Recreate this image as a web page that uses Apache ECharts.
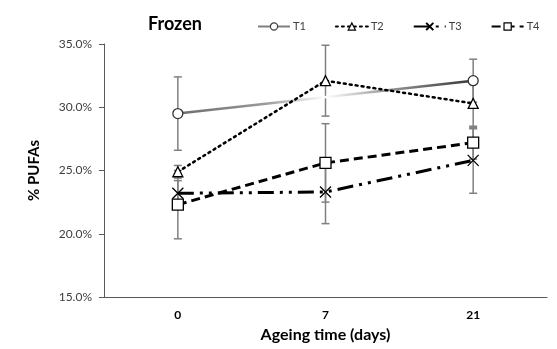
<!DOCTYPE html>
<html>
<head>
<meta charset="utf-8">
<script src="https://cdn.jsdelivr.net/npm/echarts@6/dist/echarts.min.js"></script>
<style>html,body{margin:0;padding:0;background:#fff}#c{width:557px;height:349px}</style>
</head>
<body>
<div id="c"></div>
<script>
const categories = ['0', '7', '21'];
const yTicks = [15, 20, 25, 30, 35];
const T1 = [29.5, null, 32.1];
const T2 = [24.9, 32.1, 30.3];
const T3 = [23.2, 23.3, 25.8];
const T4 = [22.3, 25.6, 27.2];
const errT1 = [2.9, null, 1.7];
const errT2 = [0.5, 2.8, 2.0];
const errT3 = [1.0, 2.5, 2.6];
const errT4 = [2.7, 3.1, 1.3];

const FONT = 'Lato, "Open Sans", sans-serif';
const chart = echarts.init(document.getElementById('c'), null, {renderer: 'canvas'});

function errData(vals, errs) {
  const out = [];
  vals.forEach((v, i) => {
    if (v != null && errs[i] != null) out.push([i, v - errs[i], v + errs[i]]);
  });
  return out;
}
const allErr = [].concat(errData(T1, errT1), errData(T2, errT2), errData(T3, errT3), errData(T4, errT4));

const xPath = 'path://M0,0L10,10M10,0L0,10';

chart.setOption({
  animation: false,
  backgroundColor: '#fff',
  title: {
    text: 'Frozen', left: 143, top: 10,
    textStyle: {fontFamily: FONT, fontSize: 18, fontWeight: 'bold', color: '#000'}
  },
  legend: {
    left: 252, top: 16, itemWidth: 32, itemHeight: 9, itemGap: 29,
    textStyle: {fontFamily: FONT, fontSize: 11, color: '#404040', padding: [0, 0, 0, -2]},
    data: [
      {name: 'T1', lineStyle: {color: '#7f7f7f', width: 2}, itemStyle: {color: '#fff', borderColor: '#404040', borderWidth: 1.2}},
      {name: 'T2', itemStyle: {color: '#fff', borderColor: '#000', borderWidth: 1.2}},
      {name: 'T3'},
      {name: 'T4', itemStyle: {color: '#fff', borderColor: '#000', borderWidth: 1.2}}
    ]
  },
  grid: {left: 104, right: 10, top: 44, bottom: 52},
  xAxis: {
    type: 'category', data: categories, boundaryGap: true,
    name: 'Ageing time (days)', nameLocation: 'middle', nameGap: 30,
    nameTextStyle: {fontFamily: FONT, fontSize: 16, fontWeight: 'bold', color: '#000'},
    axisLine: {lineStyle: {color: '#595959', width: 1}},
    axisTick: {alignWithLabel: true, length: 4, lineStyle: {color: '#595959'}},
    axisLabel: {fontFamily: FONT, fontSize: 12, fontWeight: 'bold', color: '#000', margin: 12}
  },
  yAxis: {
    type: 'value', min: yTicks[0], max: yTicks[yTicks.length - 1], interval: 5,
    name: '% PUFAs', nameLocation: 'middle', nameGap: 62,
    nameTextStyle: {fontFamily: FONT, fontSize: 15, fontWeight: 'bold', color: '#000'},
    axisLine: {show: true, lineStyle: {color: '#595959', width: 1}},
    axisTick: {show: true, length: 5, lineStyle: {color: '#595959'}},
    splitLine: {show: false},
    axisLabel: {fontFamily: FONT, fontSize: 12, color: '#404040', margin: 12,
      formatter: v => v.toFixed(1) + '%'}
  },
  series: [
    {
      type: 'custom', name: 'err', z: 1, silent: true,
      data: allErr,
      renderItem: function (params, api) {
        const x = api.value(0);
        const lo = api.coord([x, api.value(1)]);
        const hi = api.coord([x, api.value(2)]);
        const w = 4;
        const st = {stroke: '#808080', lineWidth: 1.5};
        return {type: 'group', children: [
          {type: 'line', shape: {x1: lo[0], y1: lo[1], x2: hi[0], y2: hi[1]}, style: st},
          {type: 'line', shape: {x1: lo[0] - w, y1: lo[1], x2: lo[0] + w, y2: lo[1]}, style: st},
          {type: 'line', shape: {x1: hi[0] - w, y1: hi[1], x2: hi[0] + w, y2: hi[1]}, style: st}
        ]};
      }
    },
    {
      name: 'T1', type: 'line', data: T1, connectNulls: true, z: 3,
      symbol: 'circle', symbolSize: 10,
      lineStyle: {width: 2.5, color: {type: 'linear', x: 0, y: 0, x2: 1, y2: 0, colorStops: [
        {offset: 0, color: '#6b6b6b'}, {offset: 0.3, color: '#9a9a9a'}, {offset: 0.5, color: '#ffffff'},
        {offset: 0.7, color: '#9a9a9a'}, {offset: 1, color: '#333333'}]}},
      itemStyle: {color: '#fff', borderColor: '#333', borderWidth: 1.3}
    },
    {
      name: 'T2', type: 'line', data: T2, z: 3,
      symbol: 'triangle', symbolSize: 10,
      lineStyle: {width: 2.5, color: '#000', type: [2, 4], cap: 'round'},
      itemStyle: {color: '#fff', borderColor: '#000', borderWidth: 1.3}
    },
    {
      name: 'T3', type: 'line', data: T3, z: 3,
      symbol: xPath, symbolSize: 11,
      lineStyle: {width: 3, color: '#000', type: [16, 6, 3, 6, 3, 6]},
      itemStyle: {color: '#000', borderColor: '#000', borderWidth: 1.3}
    },
    {
      name: 'T4', type: 'line', data: T4, z: 3,
      symbol: 'rect', symbolSize: 11,
      lineStyle: {width: 3, color: '#000', type: [9, 5]},
      itemStyle: {color: '#fff', borderColor: '#000', borderWidth: 1.3}
    }
  ]
});
</script>
</body>
</html>
